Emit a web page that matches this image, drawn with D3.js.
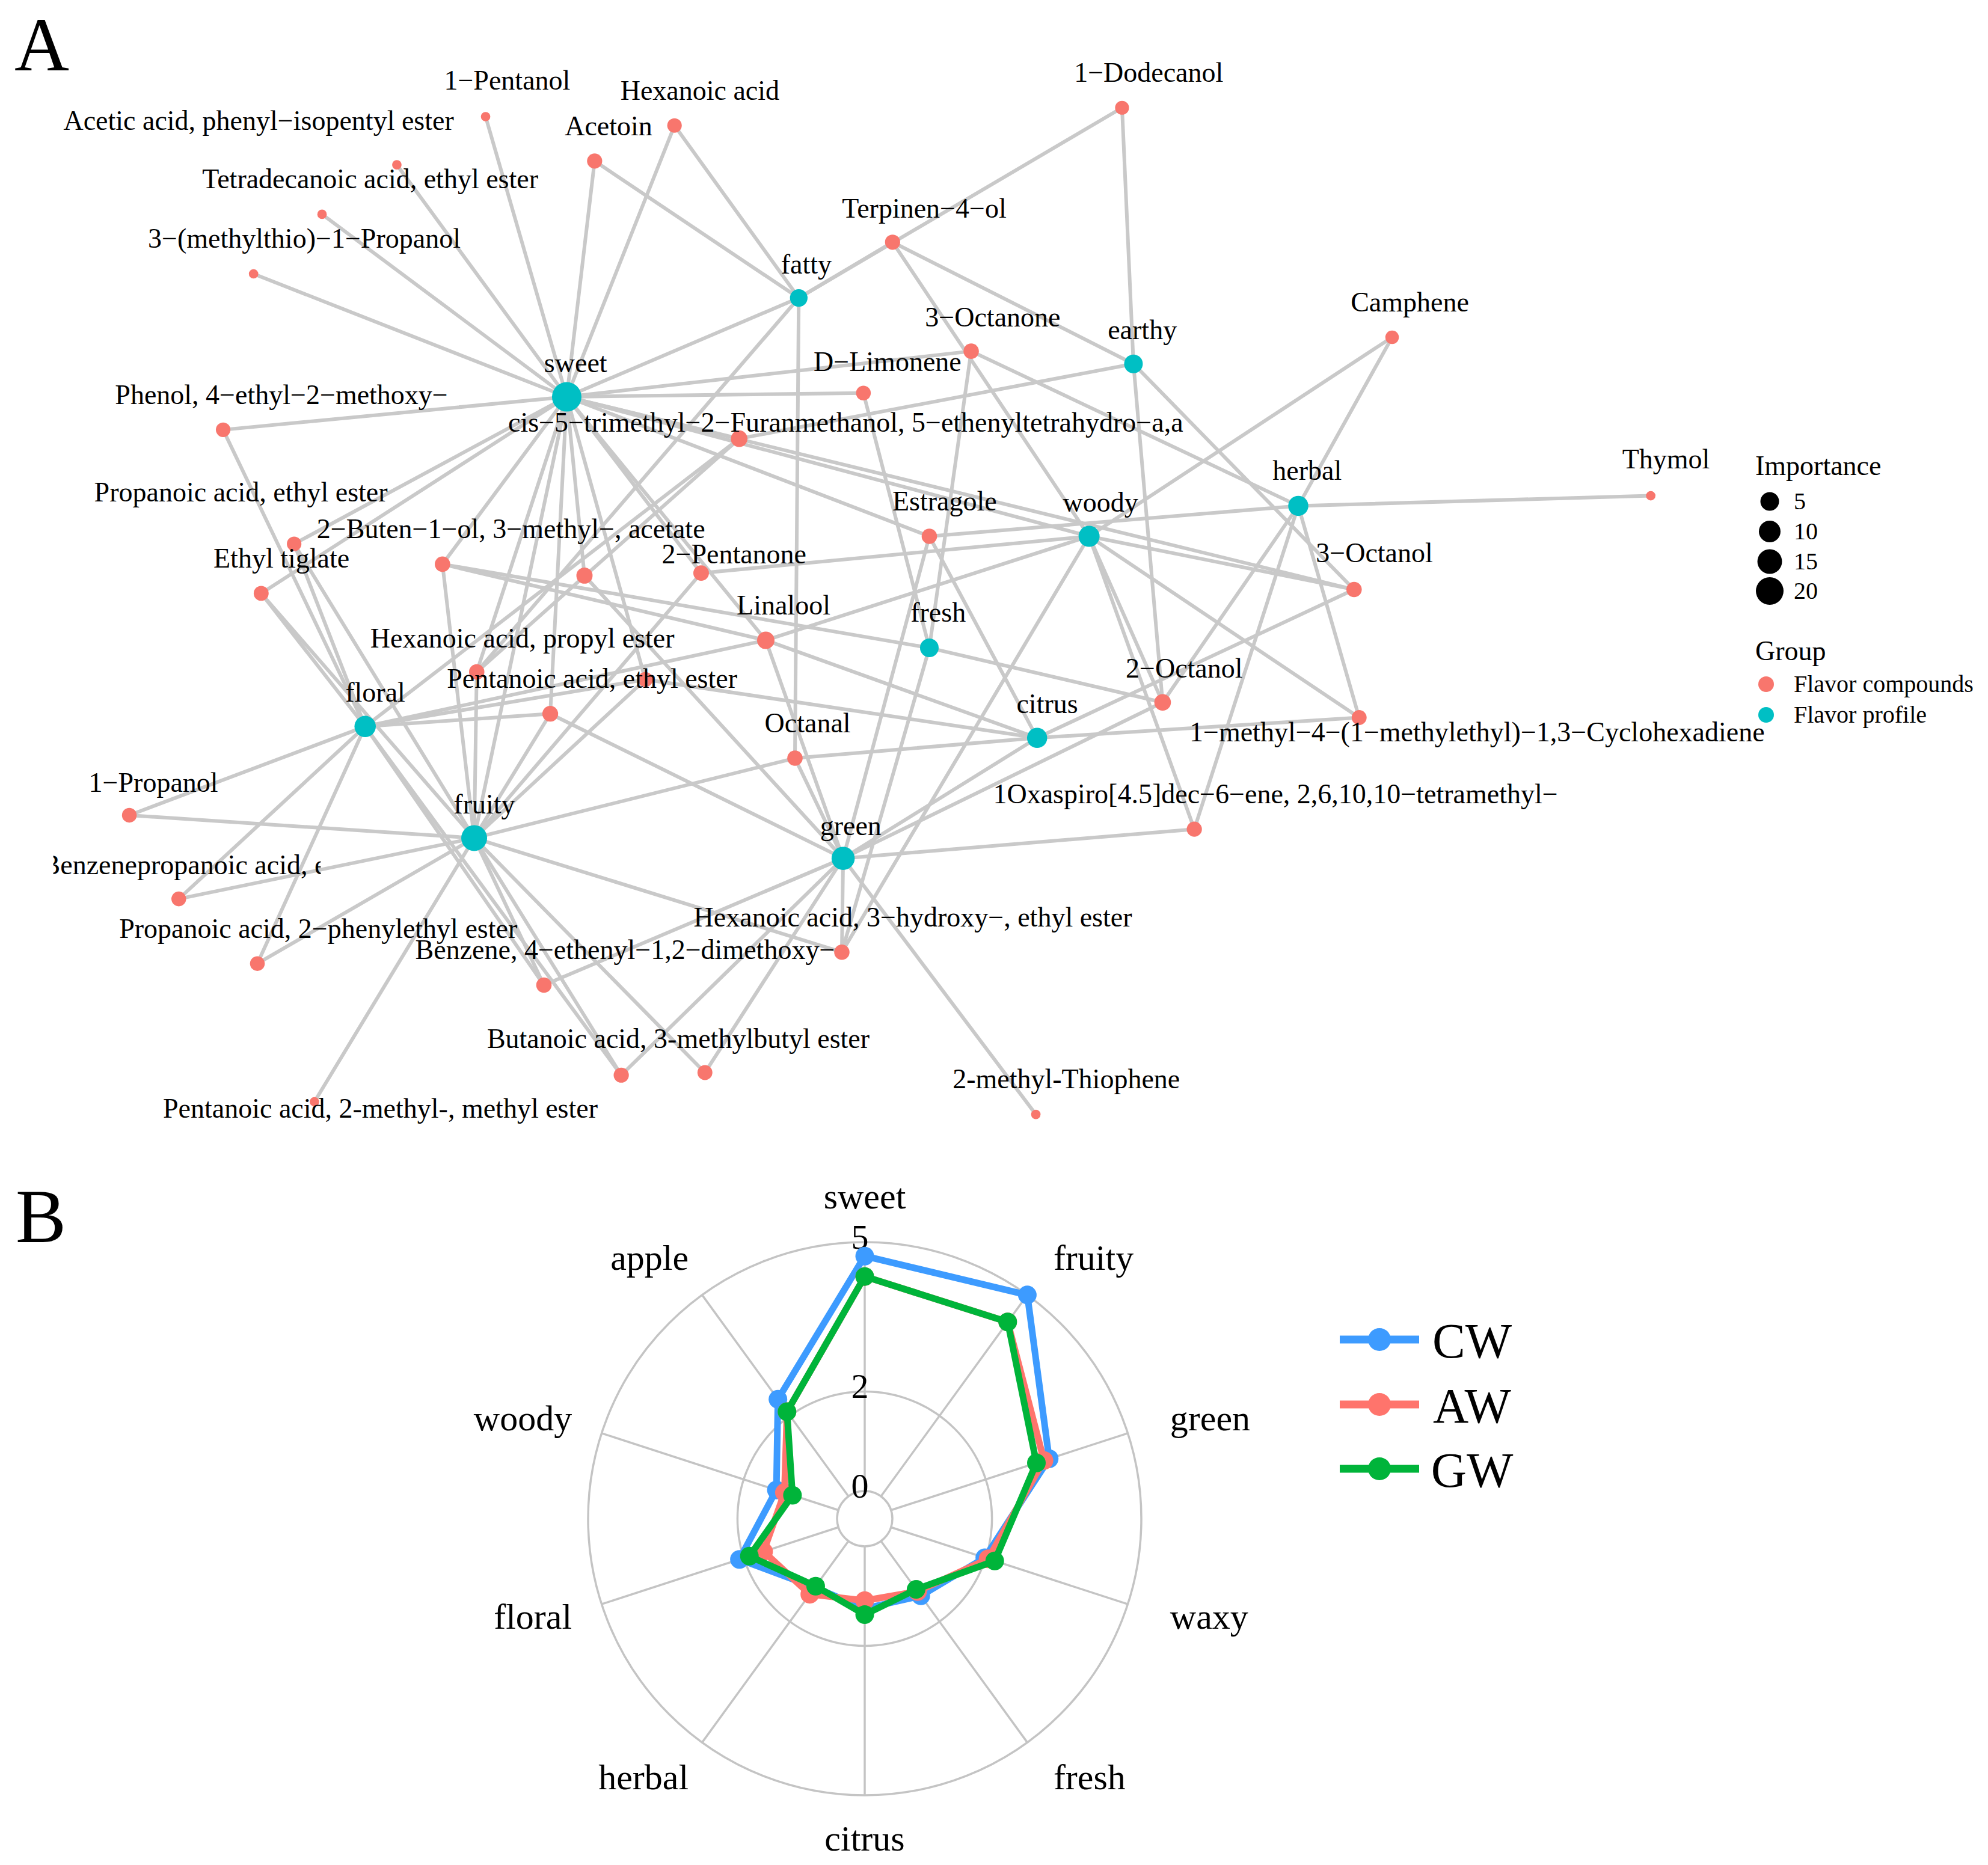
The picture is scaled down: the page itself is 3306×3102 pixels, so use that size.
<!DOCTYPE html>
<html><head><meta charset="utf-8">
<script src="https://cdn.jsdelivr.net/npm/d3@7/dist/d3.min.js"></script>
<style>
body{margin:0;background:#fff;}
svg{display:block;}
text{font-family:"Liberation Serif","Times New Roman",serif;fill:#000;}
</style>
</head><body>
<svg id="chart" width="3306" height="3102"></svg>
<script>
// ---------------- Panel A data ----------------
const profileIds = ["sweet","fatty","earthy","herbal","woody","fresh","citrus","floral","fruity","green"];
const profileImportance = [23,4.5,5,7.5,9,5,7.5,9.5,17,12.5];
// graph layout coordinates (layout space 1568 x 1471)
const profileLayout = [[447,313],[630,235],[894,287],[1024,399],[859,423],[733,511],[818,582],[288,573],[374,661],[665,677]];
const profileLabelLayout = [[454,287],[636,209],[901,261],[1031,372],[868,397],[740,484],[826,556],[296,547],[382,635],[671,652]];

const compoundIds = ["P1","HA","DD","AA","AC","TD","T4","MT","CA","O3","DL","PH","CF","TH","PE","ES","BU","X1","O3L","ET","PN","LI","HP","X2","PEE","OC2","CY","OA","OX","PR","BP","PP","BZ","HH","BA1","BA2","PM","MTH"];
const compoundLabels = ["1−Pentanol","Hexanoic acid","1−Dodecanol","Acetic acid, phenyl−isopentyl ester","Acetoin",
 "Tetradecanoic acid, ethyl ester","Terpinen−4−ol","3−(methylthio)−1−Propanol","Camphene","3−Octanone","D−Limonene",
 "Phenol, 4−ethyl−2−methoxy−","cis−5−trimethyl−2−Furanmethanol, 5−ethenyltetrahydro−a,a","Thymol","Propanoic acid, ethyl ester",
 "Estragole","2−Buten−1−ol, 3−methyl−, acetate","","3−Octanol","Ethyl tiglate","2−Pentanone","Linalool","Hexanoic acid, propyl ester",
 "","Pentanoic acid, ethyl ester","2−Octanol","1−methyl−4−(1−methylethyl)−1,3−Cyclohexadiene","Octanal",
 "1Oxaspiro[4.5]dec−6−ene, 2,6,10,10−tetramethyl−","1−Propanol","Benzenepropanoic acid, ethyl ester",
 "Propanoic acid, 2−phenylethyl ester","Benzene, 4−ethenyl−1,2−dimethoxy−","Hexanoic acid, 3−hydroxy−, ethyl ester",
 "","Butanoic acid, 3-methylbutyl ester","Pentanoic acid, 2-methyl-, methyl ester","2-methyl-Thiophene"];
const compoundImportance = [0.5,3,2.7,0.5,3.3,0.5,3.3,0.5,2.5,3.4,3.1,3,4,0.5,3,3.4,3.4,3.8,3.4,3.2,3.5,4.4,3.4,3.2,3.6,4,3.2,3.4,3.3,3.1,3.1,3.1,3.4,3.4,3.3,3.2,0.5,0.5];
const compoundLayout = [[383,92],[532,99],[885,85],[313,130],[469,127],[254,169],[704,191],[200,216],[1098,266],[766,277],
 [681,310],[176,339],[583,346],[1302,391],[232,429],[733,423],[349,445],[461,454],[1068,465],[206,468],[553,452],[604,505],
 [376,530],[509,536],[434,563],[917,554],[1072,566],[627,598],[942,654],[102,643],[141,709],[203,760],[429,777],[664,751],
 [490,848],[556,846],[248,869],[817,879]];
const compoundLabelLayout = [[400,64],[552,72],[906,58],[204,96],[480,100],[292,142],[729,165],[240,189],[1112,239],[783,251],
 [700,286],[222,312],[667,334],[1314,363],[190,389],[745,396],[403,418],null,[1084,437],[222,441],[579,438],[618,478],
 [412,504],null,[467,536],[934,528],[1165,578],[637,571],[1006,627],[121,618],[33,683],[251,733],[493,750],[720,724],
 null,[535,820],[300,875],[841,852]];

const links = [
 ["sweet","P1"],["sweet","AA"],["sweet","TD"],["sweet","MT"],["sweet","AC"],["sweet","HA"],["sweet","PH"],["sweet","PE"],
 ["sweet","ET"],["sweet","BU"],["sweet","X1"],["sweet","HP"],["sweet","PEE"],["sweet","X2"],["sweet","PN"],["sweet","LI"],
 ["sweet","ES"],["sweet","DL"],["sweet","O3"],["sweet","CF"],["sweet","O3L"],["sweet","woody"],["sweet","fatty"],["sweet","fruity"],
 ["fatty","AC"],["fatty","HA"],["fatty","T4"],["fatty","DD"],["fatty","OA"],["fatty","HP"],
 ["earthy","DD"],["earthy","T4"],["earthy","CF"],["earthy","OC2"],["earthy","O3L"],
 ["herbal","CA"],["herbal","TH"],["herbal","ES"],["herbal","O3"],["herbal","OC2"],["herbal","OX"],["herbal","CY"],
 ["woody","CA"],["woody","T4"],["woody","PN"],["woody","LI"],["woody","OC2"],["woody","OX"],["woody","CY"],["woody","HH"],["woody","O3L"],
 ["fresh","BU"],["fresh","DL"],["fresh","O3"],["fresh","OC2"],["fresh","HH"],
 ["citrus","ES"],["citrus","LI"],["citrus","X2"],["citrus","OA"],["citrus","CY"],["citrus","O3L"],["citrus","green"],
 ["floral","PH"],["floral","PE"],["floral","ET"],["floral","PR"],["floral","BP"],["floral","PP"],["floral","BZ"],["floral","BA1"],
 ["floral","CF"],["floral","PEE"],["floral","X2"],["floral","LI"],
 ["fruity","ET"],["fruity","PE"],["fruity","BU"],["fruity","HP"],["fruity","PEE"],["fruity","X2"],["fruity","PN"],["fruity","OA"],
 ["fruity","HH"],["fruity","PR"],["fruity","BP"],["fruity","PP"],["fruity","PM"],["fruity","BZ"],["fruity","BA1"],["fruity","BA2"],
 ["green","PEE"],["green","X1"],["green","OA"],["green","ES"],["green","OX"],["green","BZ"],["green","BA1"],["green","BA2"],
 ["green","MTH"],["green","HH"],["green","OC2"],["green","LI"],
 ["BU","LI"],["HP","CF"]
];
const importanceLegend = [5,10,15,20];
const groupNames = ["Flavor compounds","Flavor profile"];

// ---------------- Panel B data ----------------
const radarAxes = ["sweet","fruity","green","waxy","fresh","citrus","herbal","floral","woody","apple"];
const seriesNames = ["CW","AW","GW"];
const cwValues = [4.72,5.00,3.34,1.98,1.36,1.25,1.15,2.09,1.31,2.41];
const awValues = [4.31,4.33,3.23,2.05,1.25,1.09,1.32,1.58,1.14,2.10];
const gwValues = [4.31,4.33,3.07,2.19,1.20,1.37,1.12,1.88,0.97,2.10];
const radarTicks = [0,2,5];

// ---------------- Drawing ----------------
const svg = d3.select("#chart");
svg.append("rect").attr("width",3306).attr("height",3102).attr("fill","#fff");

const sx = d3.scaleLinear().domain([0,1568]).range([0,3306]);
const sy = d3.scaleLinear().domain([0,1471]).range([0,3102]);
const rSize = d3.scaleLinear().domain([0,5,20]).range([7,15.5,23]);
const groupColor = d3.scaleOrdinal().domain(groupNames).range(["#F8766D","#00BFC4"]);

const nodes = [];
profileIds.forEach((id,i)=>nodes.push({id, label:id, group:"Flavor profile", imp:profileImportance[i],
  x:profileLayout[i][0], y:profileLayout[i][1], lab:profileLabelLayout[i]}));
compoundIds.forEach((id,i)=>nodes.push({id, label:compoundLabels[i], group:"Flavor compounds", imp:compoundImportance[i],
  x:compoundLayout[i][0], y:compoundLayout[i][1], lab:compoundLabelLayout[i]}));
const byId = new Map(nodes.map(n=>[n.id,n]));

const gA = svg.append("g");
gA.append("g").selectAll("line").data(links).join("line")
  .attr("x1",d=>sx(byId.get(d[0]).x)).attr("y1",d=>sy(byId.get(d[0]).y))
  .attr("x2",d=>sx(byId.get(d[1]).x)).attr("y2",d=>sy(byId.get(d[1]).y))
  .attr("stroke","#C9C9C9").attr("stroke-width",6).attr("stroke-linecap","round");

const drawOrder = nodes.slice().sort((a,b)=>d3.ascending(a.group==="Flavor profile",b.group==="Flavor profile"));
gA.append("g").selectAll("circle").data(drawOrder).join("circle")
  .attr("cx",d=>sx(d.x)).attr("cy",d=>sy(d.y)).attr("r",d=>rSize(d.imp))
  .attr("fill",d=>groupColor(d.group));

// clip for the truncated label
const defs = svg.append("defs");
defs.append("clipPath").attr("id","bpclip").append("rect")
  .attr("x",sx(42)).attr("y",sy(660)).attr("width",sx(253)-sx(42)).attr("height",sy(50));

gA.append("g").selectAll("text").data(nodes.filter(n=>n.lab && n.label)).join("text")
  .attr("x",d=>sx(d.lab[0])).attr("y",d=>sy(d.lab[1])).attr("dy","0.3em")
  .attr("text-anchor",d=>d.id==="BP"?"start":"middle")
  .attr("clip-path",d=>d.id==="BP"?"url(#bpclip)":null)
  .attr("font-size",46).text(d=>d.label);

// Legend A
const legA = svg.append("g");
legA.append("text").attr("x",2919).attr("y",790).attr("font-size",46).text("Importance");
const legYs = [834,884,934,983];
legA.selectAll("circle.sz").data(importanceLegend).join("circle").attr("class","sz")
  .attr("cx",2943).attr("cy",(d,i)=>legYs[i]).attr("r",d=>rSize(d)).attr("fill","#000");
legA.selectAll("text.sz").data(importanceLegend).join("text").attr("class","sz")
  .attr("x",2983).attr("y",(d,i)=>legYs[i]).attr("dy","0.33em").attr("font-size",40).text(d=>d);
legA.append("text").attr("x",2919).attr("y",1098).attr("font-size",46).text("Group");
legA.selectAll("circle.gr").data(groupNames).join("circle").attr("class","gr")
  .attr("cx",2937).attr("cy",(d,i)=>1138+i*51).attr("r",13).attr("fill",d=>groupColor(d));
legA.selectAll("text.gr").data(groupNames).join("text").attr("class","gr")
  .attr("x",2983).attr("y",(d,i)=>1138+i*51).attr("dy","0.33em").attr("font-size",40).text(d=>d);

// Panel letters
svg.append("text").attr("x",24).attr("y",117).attr("font-size",126).text("A");
svg.append("text").attr("x",26).attr("y",2066).attr("font-size",126).text("B");

// ---------------- Radar ----------------
const cx = 1438, cy = 2526;
const rScale = d3.scaleLinear().domain([0,5]).range([46,460]);
const aScale = d3.scaleLinear().domain([0,radarAxes.length]).range([0,2*Math.PI]);
const seriesColor = d3.scaleOrdinal().domain(seriesNames).range(["#3D9BFF","#FF746C","#00B43A"]);
const gB = svg.append("g").attr("transform",`translate(${cx},${cy})`);

gB.selectAll("circle.grid").data(radarTicks).join("circle").attr("class","grid")
  .attr("r",d=>rScale(d)).attr("fill","none").attr("stroke","#C4C4C4").attr("stroke-width",3.5);
gB.selectAll("line.spoke").data(radarAxes).join("line").attr("class","spoke")
  .attr("x1",(d,i)=>rScale(0)*Math.sin(aScale(i))).attr("y1",(d,i)=>-rScale(0)*Math.cos(aScale(i)))
  .attr("x2",(d,i)=>rScale(5)*Math.sin(aScale(i))).attr("y2",(d,i)=>-rScale(5)*Math.cos(aScale(i)))
  .attr("stroke","#C4C4C4").attr("stroke-width",3.5);

gB.selectAll("text.tick").data(radarTicks).join("text").attr("class","tick")
  .attr("x",-8).attr("y",d=>-rScale(d)).attr("dy","0.19em").attr("text-anchor","middle")
  .attr("font-size",58).text(d=>d);

const labelR = 534;
gB.selectAll("text.axis").data(radarAxes).join("text").attr("class","axis")
  .attr("x",(d,i)=>{const s=Math.sin(aScale(i)); return labelR*s + (s<-0.01?21:0);})
  .attr("y",(d,i)=>-labelR*Math.cos(aScale(i)))
  .attr("dy","0.3em")
  .attr("text-anchor",(d,i)=>{const s=Math.sin(aScale(i)); return s>0.01?"start":(s<-0.01?"end":"middle");})
  .attr("font-size",60).text(d=>d);

const seriesData = [cwValues,awValues,gwValues].map((v,k)=>({name:seriesNames[k], values:v}));
const radial = d3.lineRadial().angle((d,i)=>aScale(i)).radius(d=>rScale(d)).curve(d3.curveLinearClosed);
seriesData.forEach(s=>{
  const g = gB.append("g");
  g.append("path").attr("d",radial(s.values)).attr("fill","none")
    .attr("stroke",seriesColor(s.name)).attr("stroke-width",11).attr("stroke-linejoin","round");
  g.selectAll("circle").data(s.values).join("circle")
    .attr("cx",(d,i)=>rScale(d)*Math.sin(aScale(i))).attr("cy",(d,i)=>-rScale(d)*Math.cos(aScale(i)))
    .attr("r",15.5).attr("fill",seriesColor(s.name));
});

// Legend B
const legB = svg.append("g");
const legBY = [2228,2336,2443];
seriesNames.forEach((n,i)=>{
  legB.append("line").attr("x1",2228).attr("x2",2360).attr("y1",legBY[i]).attr("y2",legBY[i])
    .attr("stroke",seriesColor(n)).attr("stroke-width",13);
  legB.append("circle").attr("cx",2294).attr("cy",legBY[i]).attr("r",19).attr("fill",seriesColor(n));
  legB.append("text").attr("x",2448).attr("y",legBY[i]).attr("dy","0.36em").attr("text-anchor","middle")
    .attr("font-size",82).text(n);
});
</script>
</body></html>
